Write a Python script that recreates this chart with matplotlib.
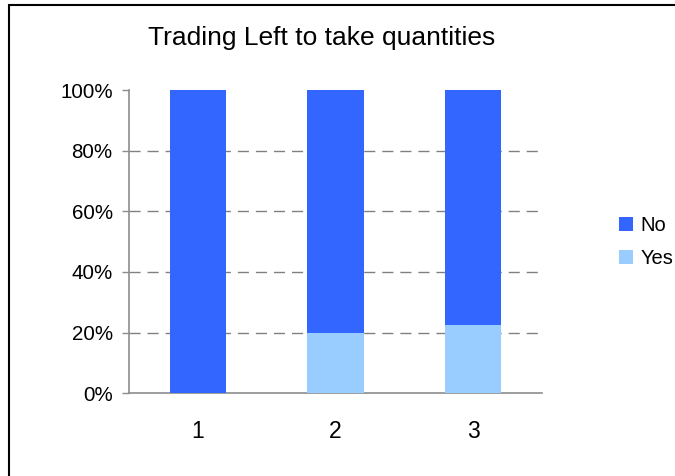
import matplotlib
matplotlib.use("Agg")
import matplotlib.pyplot as plt
from matplotlib.patches import Rectangle
from matplotlib.ticker import FuncFormatter

categories = ["1", "2", "3"]
yes_pct = [0.0, 20.0, 22.5]
no_pct = [100.0 - v for v in yes_pct]
series_names = ["No", "Yes"]
title = "Trading Left to take quantities"

color_no = "#3366FF"
color_yes = "#99CCFF"

plt.rcParams["font.family"] = ["Liberation Sans", "DejaVu Sans"]

fig = plt.figure(figsize=(6.75, 4.76), dpi=100)
ax = fig.add_axes([0.1916, 0.1737, 0.611, 0.6372])

x = list(range(1, len(categories) + 1))
b_yes = ax.bar(x, yes_pct, width=0.41, color=color_yes, zorder=3)
b_no = ax.bar(x, no_pct, bottom=yes_pct, width=0.41, color=color_no, zorder=3)

ax.set_xlim(0.5, len(categories) + 0.5)
ax.set_ylim(0, 100)
ax.set_yticks([0, 20, 40, 60, 80, 100])
ax.yaxis.set_major_formatter(FuncFormatter(lambda v, p: f"{v:.0f}%"))
ax.set_xticks(x)
ax.set_xticklabels(categories)

for yv in [20, 40, 60, 80]:
    ax.axhline(yv, color="#808080", lw=1.0, dashes=(8, 5), zorder=1)

for side in ["top", "right"]:
    ax.spines[side].set_visible(False)
for side in ["left", "bottom"]:
    ax.spines[side].set_color("#8c8c8c")
    ax.spines[side].set_linewidth(1.2)

ax.tick_params(axis="y", length=5, width=1.0, color="#8c8c8c",
               labelsize=14.8, pad=7, labelcolor="black")
ax.tick_params(axis="x", length=0, labelsize=16.5, pad=19, labelcolor="black")

fig.text(0.4767, 0.905, title, ha="center", va="baseline", fontsize=19)

leg = fig.legend([b_no, b_yes], series_names, loc="center left",
                 bbox_to_anchor=(0.917, 0.492), frameon=False,
                 fontsize=14.5, handlelength=0.7, handleheight=0.7,
                 handletextpad=0.35, labelspacing=0.68, borderaxespad=0,
                 borderpad=0)

fig.patches.append(Rectangle((9 / 675, -0.1), 1.2, 1 - 5 / 476 + 0.1,
                             transform=fig.transFigure, fill=False,
                             edgecolor="black", linewidth=1.5, zorder=10))

fig.savefig("out.png", dpi=100)
